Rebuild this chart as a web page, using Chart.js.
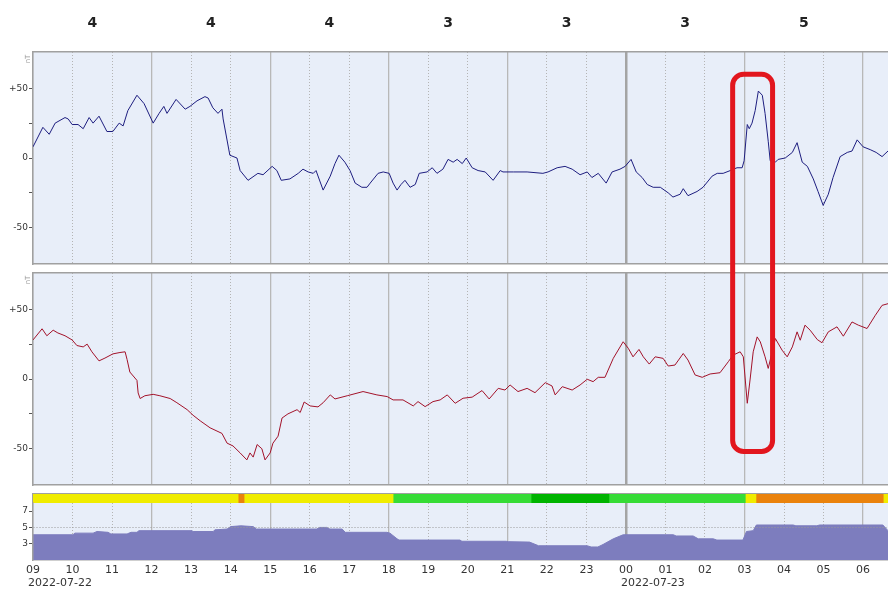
<!DOCTYPE html>
<html>
<head>
<meta charset="utf-8">
<script src="https://cdn.jsdelivr.net/npm/chart.js@4.4.1/dist/chart.umd.min.js"></script>
<style>
  body { margin: 0; background: #fff; }
  #wrap { position: relative; width: 888px; height: 589px; }
  #wrap canvas { position: absolute; left: 0; top: 0; }
</style>
</head>
<body>
<div id="wrap">
  <canvas id="cTop" width="888" height="589"></canvas>
  <canvas id="cMid" width="888" height="589"></canvas>
  <canvas id="cBar" width="888" height="589"></canvas>
  <canvas id="cKp" width="888" height="589"></canvas>
</div>
<script>
// hours counted from 2022-07-22 09:00
const XMAX = 21.63;
const hourLabels = ['09','10','11','12','13','14','15','16','17','18','19','20','21','22','23',
                    '00','01','02','03','04','05','06'];
const dateHours = [0, 15];
const dateLabels = ['2022-07-22', '2022-07-23'];

// Kp per 3 hour block
const kpBlockHours = [0, 3, 6, 9, 12, 15, 18];
const kpLabels = ['4', '4', '4', '3', '3', '3', '5'];

// upper trace (nT)
const topHours = [0.00,0.25,0.41,0.56,0.81,0.89,0.99,1.14,1.27,1.42,1.52,1.67,1.87,2.02,2.18,2.28,2.40,2.63,2.81,3.04,
  3.19,3.31,3.39,3.62,3.85,3.97,4.15,4.35,4.43,4.55,4.68,4.78,4.81,4.98,5.16,5.24,5.44,5.69,5.82,6.05,
  6.17,6.28,6.50,6.71,6.83,6.96,7.09,7.16,7.34,7.52,7.64,7.74,7.89,8.02,8.15,8.32,8.45,8.53,8.73,8.86,
  9.01,9.11,9.21,9.31,9.41,9.54,9.67,9.77,9.97,10.10,10.22,10.37,10.50,10.63,10.73,10.86,10.96,11.11,11.26,11.44,
  11.64,11.82,11.89,12.15,12.50,12.90,13.03,13.26,13.46,13.64,13.84,14.02,14.14,14.30,14.50,14.65,14.85,14.98,15.13,15.26,
  15.41,15.54,15.69,15.87,16.07,16.19,16.37,16.45,16.57,16.80,16.95,17.18,17.31,17.46,17.64,17.81,17.94,17.99,18.07,18.12,
  18.19,18.27,18.35,18.45,18.52,18.60,18.65,18.78,18.85,19.03,19.21,19.33,19.46,19.59,19.74,19.86,19.99,20.12,20.24,20.42,
  20.60,20.72,20.85,21.00,21.18,21.33,21.48,21.63];
const topValues = [8,22,17,25,29,28,24,24,21,29,25,30,19,19,25,23,34,45,39,25,
  32,37,32,42,35,37,41,44,43,36,32,35,28,2,0,-9,-16,-11,-12,-6,
  -9,-16,-15,-11,-8,-10,-11,-9,-23,-13,-4,2,-3,-9,-18,-21,-21,-18,-11,-10,
  -11,-18,-23,-19,-16,-21,-19,-11,-10,-7,-11,-8,-1,-3,-1,-4,0,-7,-9,-10,
  -16,-9,-10,-10,-10,-11,-10,-7,-6,-8,-12,-10,-14,-11,-18,-10,-8,-6,-1,-10,
  -14,-19,-21,-21,-25,-28,-26,-22,-27,-24,-21,-13,-11,-11,-9,-7,-7,-2,24,21,
  25,34,48,45,32,12,-2,-3,-1,0,4,11,-3,-6,-15,-24,-34,-26,-14,1,
  4,5,13,8,6,4,1,5];

// lower trace (nT)
const midHours = [0.00,0.23,0.35,0.51,0.63,0.81,0.99,1.11,1.27,1.37,1.49,1.67,1.82,2.02,2.20,2.33,2.38,2.45,2.63,2.66,
  2.71,2.83,3.04,3.21,3.47,3.64,3.90,4.05,4.23,4.48,4.78,4.91,5.06,5.24,5.41,5.49,5.57,5.67,5.79,5.87,
  6.00,6.07,6.20,6.30,6.45,6.68,6.76,6.86,7.01,7.21,7.34,7.52,7.64,7.95,8.35,8.70,8.96,9.11,9.36,9.62,
  9.74,9.92,10.12,10.30,10.48,10.68,10.88,11.11,11.36,11.54,11.77,11.94,12.07,12.27,12.50,12.70,12.96,13.13,13.21,13.39,
  13.64,13.84,14.02,14.17,14.30,14.47,14.68,14.93,15.06,15.18,15.33,15.44,15.59,15.74,15.94,16.07,16.24,16.45,16.57,16.75,
  16.93,17.13,17.38,17.59,17.71,17.89,17.97,18.07,18.14,18.22,18.32,18.40,18.52,18.60,18.78,18.95,19.08,19.21,19.33,19.41,
  19.53,19.66,19.84,19.96,20.12,20.34,20.50,20.72,20.88,21.10,21.31,21.48,21.63];
const midValues = [28,36,31,35,33,31,28,24,23,25,19.5,13,15,18,19,19.5,14,5,-1,-10,
  -14,-12,-11,-12,-14,-17,-22,-26,-30,-35,-39,-46,-48,-53,-58,-53,-56,-47,-50,-58,
  -53,-46,-41,-28,-25,-22,-24,-16.5,-19.3,-20,-17,-11.4,-14.3,-12,-9,-11.4,-12.6,-15,-15,-19.3,
  -16.2,-19.8,-16.2,-15,-11.4,-17.4,-13.8,-13,-8.3,-14.3,-6.7,-7.9,-4.3,-9,-6.7,-9.8,-2.6,-5,-11.4,-5.5,
  -7.9,-4.3,-0.2,-1.9,1.2,1.2,14.8,26.7,22,15.9,21.2,15.9,10.7,15.9,14.8,9.3,10,18.3,13.6,2.9,
  1.2,3.6,4.5,12.4,17.1,19.5,15.9,-17.4,-0.7,19.5,30.2,26.6,15.9,7.6,29,20.7,15.9,23,33.8,27.8,
  38.6,35,28.3,26,33.8,37.4,30.7,40.9,38.6,36.2,45.7,52.8,54];

// activity index (bottom panel)
const kpIdxHours = [0.00,1.01,1.06,1.52,1.62,1.90,1.97,2.38,2.48,2.63,2.68,4.02,4.05,4.56,4.60,4.91,5.00,5.26,5.57,5.65,
  7.18,7.25,7.43,7.51,7.82,7.90,8.95,9.03,9.21,9.26,10.80,10.85,11.97,12.02,12.56,12.79,14.02,14.12,14.29,14.42,
  14.68,14.93,16.20,16.27,16.70,16.83,17.21,17.30,17.96,18.05,18.22,18.30,19.23,19.30,19.83,19.90,21.50,21.63];
const kpIdxValues = [4.1,4.1,4.3,4.3,4.5,4.4,4.2,4.2,4.4,4.4,4.6,4.6,4.5,4.5,4.7,4.8,5.1,5.2,5.1,4.8,
  4.8,5.0,5.0,4.8,4.8,4.4,4.4,4.3,3.6,3.45,3.45,3.3,3.3,3.25,3.2,2.75,2.75,2.6,2.6,2.9,
  3.6,4.1,4.1,3.95,3.95,3.6,3.6,3.45,3.45,4.5,4.6,5.3,5.3,5.2,5.2,5.3,5.3,4.6];

// colour strip: activity level per time segment
const segStart = [0.00, 5.19, 5.34, 9.11, 12.60, 14.57, 18.02, 18.29, 21.51];
const segEnd   = [5.19, 5.34, 9.11, 12.60, 14.57, 18.02, 18.29, 21.51, 21.63];
const segLevel = [4, 5, 4, 3, 2, 3, 4, 5, 4];

// marked interval
const boxHours = [17.70, 18.71];
const boxTopValue = 60;     // on upper nT axis
const boxBottomValue = -52; // on lower nT axis

const levelColors = { 2: '#00b400', 3: '#36dc36', 4: '#f0ec00', 5: '#ea820c' };
const PLOT_BG = '#e8eef9';
const BORDER = '#a0a0a0';

Chart.defaults.font.family = 'DejaVu Sans';
Chart.defaults.color = '#333';

function pts(xs, ys) {
  return xs.map((x, i) => ({ x: x, y: ys[i] }));
}

const panelBg = {
  id: 'panelBg',
  beforeDraw(chart, args, opts) {
    const { ctx, chartArea: a } = chart;
    ctx.save();
    ctx.fillStyle = PLOT_BG;
    ctx.fillRect(a.left, a.top, a.right - a.left, a.bottom - a.top);
    if (opts.unit) {
      ctx.translate(a.left - 5, a.top + 7);
      ctx.rotate(-Math.PI / 2);
      ctx.fillStyle = '#999';
      ctx.font = '7px DejaVu Sans';
      ctx.textAlign = 'center';
      ctx.textBaseline = 'middle';
      ctx.fillText(opts.unit, 0, 0);
    }
    ctx.restore();
  }
};

// hourly dotted lines
function minorX(showLabels) {
  return {
    type: 'linear', axis: 'x', position: 'bottom', min: 0, max: XMAX,
    afterBuildTicks: s => { s.ticks = hourLabels.map((_, i) => ({ value: i })); },
    ticks: {
      display: !!showLabels, autoSkip: false, maxRotation: 0, padding: 4,
      font: { size: 11 }, color: '#333',
      callback: (v, i) => hourLabels[i]
    },
    grid: {
      color: c => (c.tick && c.tick.value % 3 === 0) ? 'rgba(0,0,0,0)' : '#b4b4b4',
      lineWidth: 1, drawTicks: false
    },
    border: { display: false, dash: [1, 2] },
    afterFit: s => { s.height = showLabels ? 16 : 0; }
  };
}

// 3-hourly solid lines, bottom border
function majorX() {
  return {
    type: 'linear', axis: 'x', position: 'bottom', min: 0, max: XMAX,
    afterBuildTicks: s => {
      s.ticks = hourLabels.map((_, i) => i).filter(h => h % 3 === 0).map(h => ({ value: h }));
    },
    ticks: { display: false },
    grid: {
      color: c => (c.tick && c.tick.value === 15) ? '#a4a4a4' : '#b8b8b8',
      lineWidth: c => (c.tick && c.tick.value === 15) ? 2.5 : 1.3,
      drawTicks: false
    },
    border: { display: true, color: BORDER, width: 1.5 },
    afterFit: s => { s.height = 0; }
  };
}

function topBorderX() {
  return {
    type: 'linear', axis: 'x', position: 'top', min: 0, max: XMAX,
    ticks: { display: false },
    grid: { display: false, drawTicks: false },
    border: { display: true, color: BORDER, width: 1.5 },
    afterFit: s => { s.height = 0; }
  };
}

function magY() {
  return {
    type: 'linear', position: 'left', min: -76, max: 76,
    afterBuildTicks: s => { s.ticks = [-50, -25, 0, 25, 50].map(v => ({ value: v })); },
    ticks: {
      font: { size: 9 }, color: '#333', padding: 1,
      callback: v => v === 50 ? '+50' : v === -50 ? '-50' : v === 0 ? '0' : ''
    },
    grid: { drawOnChartArea: false, drawTicks: true, tickLength: 4, tickColor: '#555' },
    border: { display: true, color: BORDER, width: 1.5 },
    afterFit: s => { s.width = 33; }
  };
}

const common = {
  responsive: false,
  animation: false,
  events: [],
  plugins: { legend: { display: false }, tooltip: { enabled: false } }
};

// upper panel
const chartTop = new Chart(document.getElementById('cTop'), {
  type: 'line',
  data: {
    datasets: [{
      data: pts(topHours, topValues), xAxisID: 'x', yAxisID: 'y',
      borderColor: '#1e1e80', borderWidth: 1, pointRadius: 0, tension: 0
    }]
  },
  options: {
    ...common,
    layout: { padding: { left: 0, right: 0, top: 0, bottom: 325 } },
    plugins: { ...common.plugins, panelBg: { unit: 'nT' } },
    scales: {
      xKp: {
        type: 'linear', axis: 'x', position: 'top', min: 0, max: XMAX,
        afterBuildTicks: s => { s.ticks = kpBlockHours.map(h => ({ value: h + 1.5 })); },
        ticks: {
          autoSkip: false, maxRotation: 0, padding: 12,
          font: { size: 14, weight: 'bold' }, color: '#222',
          callback: (v, i) => kpLabels[i]
        },
        grid: { display: false },
        border: { display: true, color: BORDER, width: 1.5 },
        afterFit: s => { s.height = 52; }
      },
      x: minorX(false),
      x2: majorX(),
      y: magY()
    }
  },
  plugins: [panelBg]
});

// box spanning both magnetometer panels
const highlight = {
  id: 'highlight',
  afterDraw(chart) {
    const ctx = chart.ctx;
    const xs = chart.scales.x;
    const l = xs.getPixelForValue(boxHours[0]);
    const r = xs.getPixelForValue(boxHours[1]);
    const t = chartTop.scales.y.getPixelForValue(boxTopValue);
    const b = chart.scales.y.getPixelForValue(boxBottomValue);
    ctx.save();
    ctx.strokeStyle = '#e2161e';
    ctx.lineWidth = 5;
    ctx.beginPath();
    ctx.roundRect(l, t, r - l, b - t, 11);
    ctx.stroke();
    ctx.restore();
  }
};

// lower panel
new Chart(document.getElementById('cMid'), {
  type: 'line',
  data: {
    datasets: [{
      data: pts(midHours, midValues), xAxisID: 'x', yAxisID: 'y',
      borderColor: '#a3122a', borderWidth: 1, pointRadius: 0, tension: 0
    }]
  },
  options: {
    ...common,
    layout: { padding: { left: 0, right: 0, top: 273, bottom: 104 } },
    plugins: { ...common.plugins, panelBg: { unit: 'nT' } },
    scales: {
      xt: topBorderX(),
      x: minorX(false),
      x2: majorX(),
      y: magY()
    }
  },
  plugins: [panelBg, highlight]
});

// colour strip
new Chart(document.getElementById('cBar'), {
  type: 'bar',
  data: {
    labels: ['level'],
    datasets: segLevel.map((lv, i) => ({
      data: [[segStart[i], segEnd[i]]],
      backgroundColor: levelColors[lv],
      borderWidth: 0, grouped: false,
      barPercentage: 1, categoryPercentage: 1
    }))
  },
  options: {
    ...common,
    indexAxis: 'y',
    layout: { padding: { left: 0, right: 0, top: 494, bottom: 86 } },
    scales: {
      x: topBorderX(),
      y: {
        type: 'category', position: 'left',
        ticks: { display: false },
        grid: { display: false, drawTicks: false },
        border: { display: true, color: BORDER, width: 1.5 },
        afterFit: s => { s.width = 33; }
      }
    }
  }
});

// activity area + time axis
new Chart(document.getElementById('cKp'), {
  type: 'line',
  data: {
    datasets: [{
      data: pts(kpIdxHours, kpIdxValues), xAxisID: 'x', yAxisID: 'y',
      borderColor: '#7d7dbe', backgroundColor: '#7d7dbe', borderWidth: 1,
      pointRadius: 0, tension: 0, fill: 'start'
    }]
  },
  options: {
    ...common,
    layout: { padding: { left: 0, right: 0, top: 503, bottom: 0 } },
    plugins: { ...common.plugins, panelBg: {} },
    scales: {
      x2: { ...majorX(), weight: 0 },
      x: { ...minorX(true), weight: 1 },
      xDate: {
        type: 'linear', axis: 'x', position: 'bottom', min: 0, max: XMAX, weight: 2,
        afterBuildTicks: s => { s.ticks = dateHours.map(h => ({ value: h })); },
        ticks: {
          autoSkip: false, maxRotation: 0, padding: 1, align: 'start', labelOffset: -5,
          font: { size: 11 }, color: '#333',
          callback: (v, i) => dateLabels[i]
        },
        grid: { display: false, drawTicks: false },
        border: { display: false },
        afterFit: s => { s.height = 13; }
      },
      y: {
        type: 'linear', position: 'left', min: 1, max: 8,
        afterBuildTicks: s => { s.ticks = [3, 5, 7].map(v => ({ value: v })); },
        ticks: { font: { size: 9 }, color: '#333', padding: 1 },
        grid: {
          color: c => (c.tick && c.tick.value === 5) ? '#9a9a9a' : 'rgba(0,0,0,0)',
          tickColor: '#555', tickLength: 4, z: 1
        },
        border: { display: true, color: BORDER, width: 1.5, dash: [1, 2], z: 1 },
        afterFit: s => { s.width = 33; }
      }
    }
  },
  plugins: [panelBg]
});
</script>
</body>
</html>
